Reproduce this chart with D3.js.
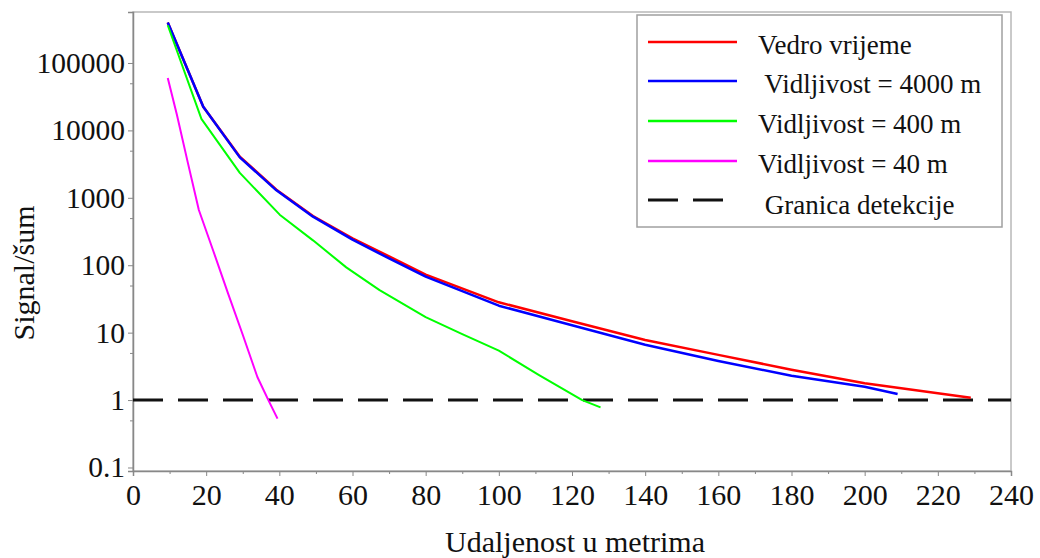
<!DOCTYPE html>
<html>
<head>
<meta charset="utf-8">
<script src="https://cdn.jsdelivr.net/npm/d3@7"></script>
<style>
  body { margin: 0; background: #fff; }
  svg { display: block; }
  text { font-family: "Liberation Serif", "Times New Roman", serif; fill: #111; }
</style>
</head>
<body>
<svg id="chart" width="1040" height="558"></svg>
<script>
// ---- data ----
const xTicks = [0, 20, 40, 60, 80, 100, 120, 140, 160, 180, 200, 220, 240];
const yTicks = [0.1, 1, 10, 100, 1000, 10000, 100000];
const yTickLabels = ["0.1", "1", "10", "100", "1000", "10000", "100000"];

const distClear = [9.5, 19.2, 29.2, 39.2, 49.2, 60, 70, 80, 100, 120, 140, 160, 180, 200, 229];
const snrClear  = [398000, 22400, 4070, 1320, 537, 251, 135, 72.4, 28.2, 14.8, 7.76, 4.68, 2.82, 1.78, 1.08];

const dist4000 = [9.5, 19.2, 29.2, 39.2, 49.2, 60, 70, 80, 100, 120, 140, 160, 180, 200, 209];
const snr4000  = [398000, 22400, 3980, 1290, 525, 240, 126, 67.6, 25.1, 12.9, 6.6, 3.8, 2.3, 1.58, 1.23];

const dist400 = [9.5, 18.7, 29.2, 40.1, 49.2, 58.3, 67.4, 80, 90, 100, 111, 122.8, 127.8];
const snr400  = [363000, 14800, 2340, 562, 234, 93, 42.7, 17, 9.5, 5.4, 2.35, 1.0, 0.78];

const dist40 = [9.5, 12, 15, 18, 22, 26, 30, 34, 37, 39.5];
const snr40  = [60000, 17000, 3300, 660, 160, 38, 9.3, 2.2, 1.0, 0.53];

const detectionLimit = 1;

const seriesNames = ["Vedro vrijeme", " Vidljivost = 4000 m", "Vidljivost = 400 m", "Vidljivost = 40 m"];
const limitName = " Granica detekcije";
const seriesColors = ["#ff0000", "#0000ff", "#00ff00", "#ff00ff"];

const xTitle = "Udaljenost u metrima";
const yTitle = "Signal/šum";

// ---- drawing ----
const svg = d3.select("#chart");
const pLeft = 133, pRight = 1011, pTop = 12, pBottom = 471;
const serif = "'Liberation Serif', 'Times New Roman', serif";

const x = d3.scaleLinear().domain([0, 240]).range([pLeft, pRight]);
const y = d3.scaleLog().domain([Math.pow(10, -1.052), Math.pow(10, 5.756)]).range([pBottom, pTop]);

// frame
svg.append("rect")
  .attr("x", pLeft).attr("y", pTop)
  .attr("width", pRight - pLeft).attr("height", pBottom - pTop)
  .attr("fill", "none").attr("stroke", "#b8b8b8").attr("stroke-width", 1.5);

// x axis
svg.append("g").attr("transform", `translate(0,${pBottom})`)
  .call(d3.axisBottom(x).tickValues(d3.range(10, 240, 20)).tickSize(3).tickFormat(""))
  .call(g => g.select(".domain").remove())
  .call(g => g.selectAll("line").attr("stroke", "#888"));
svg.append("g").attr("transform", `translate(0,${pBottom})`)
  .call(d3.axisBottom(x).tickValues(xTicks).tickSize(5).tickPadding(8).tickFormat(d3.format("d")))
  .call(g => g.select(".domain").attr("stroke", "#888").attr("stroke-width", 1.5))
  .call(g => g.selectAll("line").attr("stroke", "#888"))
  .call(g => g.selectAll("text").attr("font-size", 30).attr("fill", "#111")
      .style("font-family", serif));

// y axis
svg.append("g").attr("transform", `translate(${pLeft},0)`)
  .call(d3.axisLeft(y).tickValues([0.5, 5, 50, 500, 5000, 50000]).tickSize(3).tickFormat(""))
  .call(g => g.select(".domain").remove())
  .call(g => g.selectAll("line").attr("stroke", "#888"));
svg.append("g").attr("transform", `translate(${pLeft},0)`)
  .call(d3.axisLeft(y).tickValues(yTicks).tickSize(5).tickPadding(3)
        .tickFormat((d, i) => yTickLabels[i]))
  .call(g => g.select(".domain").attr("stroke", "#888").attr("stroke-width", 1.5))
  .call(g => g.selectAll("line").attr("stroke", "#888"))
  .call(g => g.selectAll("text").attr("font-size", 29.5).attr("fill", "#111")
      .style("font-family", serif));

// axis titles
svg.append("text")
  .attr("x", (pLeft + pRight) / 2 + 3).attr("y", 552)
  .attr("text-anchor", "middle").attr("font-size", 30)
  .style("font-family", serif)
  .text(xTitle);
svg.append("text")
  .attr("transform", `translate(34,273) rotate(-90)`)
  .attr("text-anchor", "middle").attr("font-size", 30)
  .style("font-family", serif)
  .text(yTitle);

// detection limit
svg.append("line")
  .attr("x1", pLeft).attr("x2", pRight)
  .attr("y1", y(detectionLimit)).attr("y2", y(detectionLimit))
  .attr("stroke", "#111").attr("stroke-width", 3)
  .attr("stroke-dasharray", "30,15");

const line = d3.line().x(d => x(d[0])).y(d => y(d[1]));
const series = [
  { d: distClear, v: snrClear, w: 2.5 },
  { d: dist4000,  v: snr4000,  w: 2.5 },
  { d: dist400,   v: snr400,   w: 2 },
  { d: dist40,    v: snr40,    w: 2 }
];
series.forEach((s, i) => {
  svg.append("path")
    .datum(s.d.map((dd, j) => [dd, s.v[j]]))
    .attr("d", line)
    .attr("fill", "none")
    .attr("stroke", seriesColors[i])
    .attr("stroke-width", s.w)
    .attr("stroke-linejoin", "round");
});

// legend
const lg = svg.append("g");
lg.append("rect")
  .attr("x", 637).attr("y", 15).attr("width", 365).attr("height", 212)
  .attr("fill", "#fff").attr("stroke", "#a0a0a0").attr("stroke-width", 1.5);
const rowY = [42, 81, 121, 161, 200];
const textX = [758, 758, 758, 758, 758];
seriesNames.forEach((name, i) => {
  lg.append("line")
    .attr("x1", 648).attr("x2", 737)
    .attr("y1", rowY[i]).attr("y2", rowY[i])
    .attr("stroke", seriesColors[i]).attr("stroke-width", 2.5);
  lg.append("text")
    .attr("x", textX[i]).attr("y", rowY[i] + 12)
    .attr("font-size", 27)
    .style("font-family", serif)
    .style("white-space", "pre")
    .text(name);
});
lg.append("line")
  .attr("x1", 648).attr("x2", 723)
  .attr("y1", rowY[4]).attr("y2", rowY[4])
  .attr("stroke", "#111").attr("stroke-width", 3)
  .attr("stroke-dasharray", "30,15");
lg.append("text")
  .attr("x", textX[4]).attr("y", rowY[4] + 14)
  .attr("font-size", 27)
  .style("font-family", serif)
  .style("white-space", "pre")
  .text(limitName);
</script>
</body>
</html>
